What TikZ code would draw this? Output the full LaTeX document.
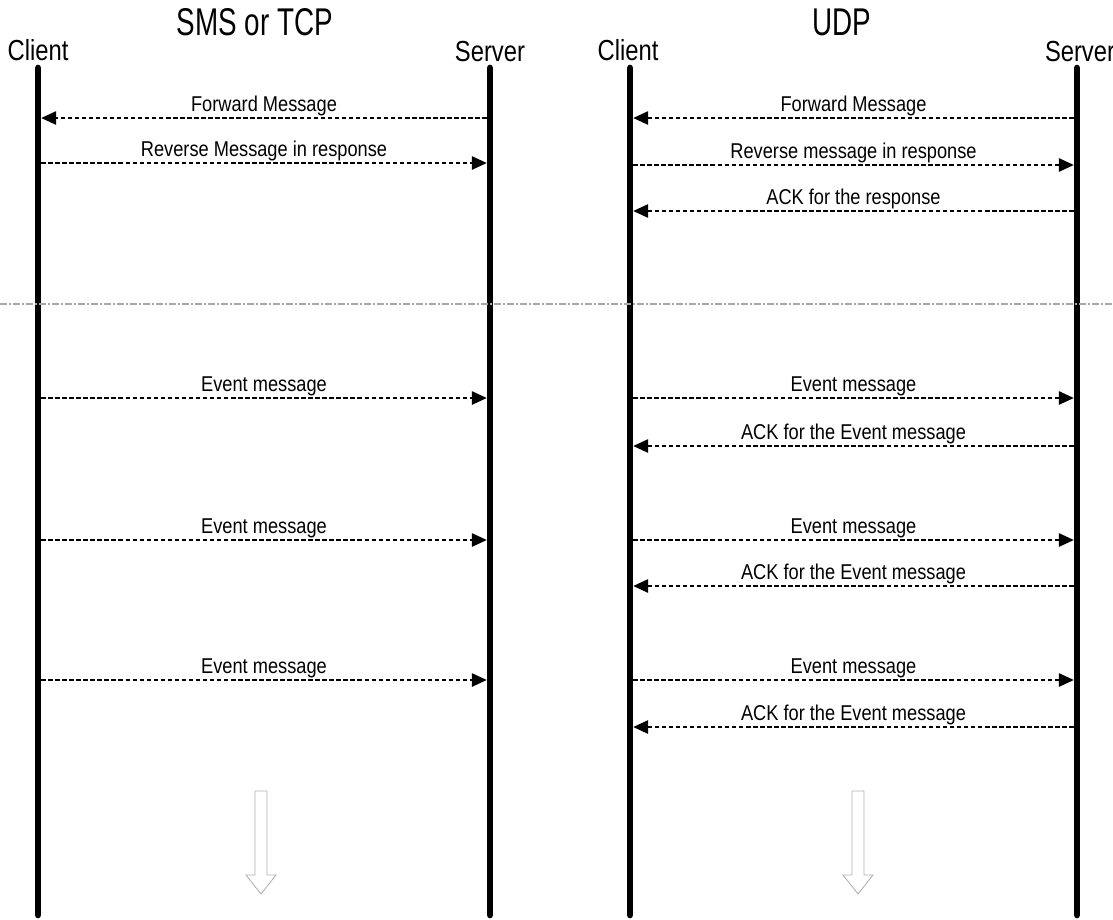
\documentclass[tikz,border=0pt]{standalone}
\usepackage{fontspec}
\setmainfont{Liberation Sans}[FakeStretch=0.85]
\newfontfamily\rolefont{Liberation Sans}[FakeStretch=0.82]
\newfontfamily\titlefont{Liberation Sans}[FakeStretch=0.72]
\usepackage{tikz}
\usetikzlibrary{arrows.meta, positioning}

\begin{document}
\begin{tikzpicture}[
        lifeline/.style={line width=3.8pt, line cap=round},
        msg/.style={line width=1.2pt, dash pattern=on 2.6pt off 1.4pt,
            -{Triangle[length=8.5pt,width=7.5pt]}, shorten >=1.8pt, shorten <=1.8pt},
        lbl/.style={above, inner sep=0.6pt, font=\fontsize{12.2}{14}\selectfont},
        role/.style={inner sep=0pt, font=\rolefont\fontsize{16.5}{18}\selectfont},
        heading/.style={inner sep=0pt, font=\titlefont\fontsize{22}{24}\selectfont},
        sep/.style={gray!70, line width=0.8pt, dash pattern=on 4pt off 1.2pt on 1pt off 1.2pt},
        hollow/.style={draw=gray!60, line width=0.5pt, fill=white}
    ]
        \useasboundingbox (0,0) rectangle (22.26,-18.38);
        \clip (0,0) rectangle (22.26,-18.38);

        % Các mốc của đường đời
        \coordinate (c1) at (0.76,-1.36);   \coordinate (c1e) at (0.76,-18.3);
        \coordinate (s1) at (9.8,-1.36);    \coordinate (s1e) at (9.8,-18.3);
        \coordinate (c2) at (12.6,-1.36);   \coordinate (c2e) at (12.6,-18.3);
        \coordinate (s2) at (21.54,-1.36);  \coordinate (s2e) at (21.54,-18.3);

        % Tiêu đề
        \node[heading] (tcp) at (5.1,-0.44) {SMS or TCP};
        \node[heading] (udp) at (16.84,-0.44) {UDP};
        \node[role] (client1) at (0.76,-1.0) {Client};
        \node[role] (server1) at (9.8,-1.04) {Server};
        \node[role] (client2) at (12.56,-1.0) {Client};
        \node[role] (server2) at (21.6,-1.04) {Server};

        \draw[lifeline] (c1) -- (c1e);
        \draw[lifeline] (s1) -- (s1e);
        \draw[lifeline] (c2) -- (c2e);
        \draw[lifeline] (s2) -- (s2e);

        % Đường phân cách
        \coordinate (sepL) at (0,-6.08);
        \coordinate (sepR) at (22.26,-6.08);
        \draw[sep] (sepL) -- (sepR);

        % SMS hoặc TCP
        \draw[msg] (s1 |- 0,-2.36) -- node[lbl] {Forward Message} (c1 |- 0,-2.36);
        \draw[msg] (c1 |- 0,-3.26) -- node[lbl] {Reverse Message in response} (s1 |- 0,-3.26);
        \foreach \y in {7.96,10.8,13.6}
            \draw[msg] (c1 |- 0,-\y) -- node[lbl] {Event message} (s1 |- 0,-\y);

        % UDP
        \draw[msg] (s2 |- 0,-2.36) -- node[lbl] {Forward Message} (c2 |- 0,-2.36);
        \draw[msg] (c2 |- 0,-3.3) -- node[lbl] {Reverse message in response} (s2 |- 0,-3.3);
        \draw[msg] (s2 |- 0,-4.22) -- node[lbl] {ACK for the response} (c2 |- 0,-4.22);
        \foreach \y/\a in {7.96/8.92, 10.8/11.72, 13.6/14.54} {
            \draw[msg] (c2 |- 0,-\y) -- node[lbl] {Event message} (s2 |- 0,-\y);
            \draw[msg] (s2 |- 0,-\a) -- node[lbl] {ACK for the Event message} (c2 |- 0,-\a);
        }

        % Mũi tên rỗng
        \foreach \x in {5.22,17.16}
            \draw[hollow] (\x-0.12,-15.82) -- (\x+0.12,-15.82) -- (\x+0.12,-17.5)
                -- (\x+0.3,-17.5) -- (\x,-17.88) -- (\x-0.3,-17.5)
                -- (\x-0.12,-17.5) -- cycle;
    \end{tikzpicture}
\end{document}
